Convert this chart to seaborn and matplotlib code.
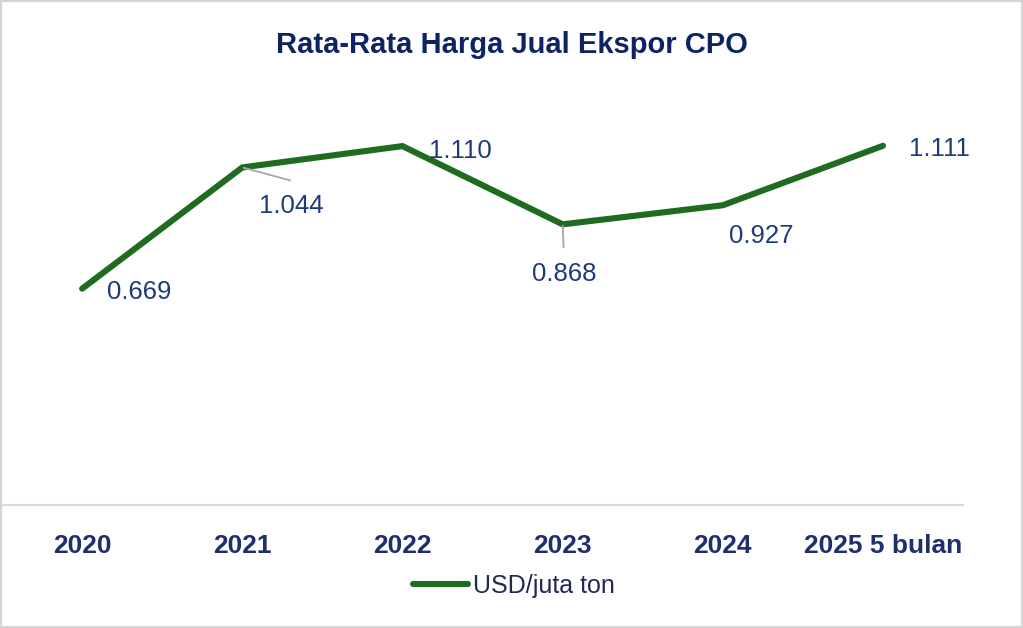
import pandas as pd
import matplotlib
matplotlib.use("Agg")
import matplotlib.pyplot as plt
import seaborn as sns

# data
tahun = ["2020", "2021", "2022", "2023", "2024", "2025 5 bulan"]
harga = [0.669, 1.044, 1.110, 0.868, 0.927, 1.111]
label = ["0.669", "1.044", "1.110", "0.868", "0.927", "1.111"]

df = pd.DataFrame({"tahun": tahun, "harga": harga})

sns.set_style("white")
plt.rcParams['font.family'] = ['Liberation Sans', 'DejaVu Sans']

hijau = "#1F6B1F"
navy = "#1F2F6E"
biru = "#1F3A7A"

fig = plt.figure(figsize=(10.23, 6.28), dpi=100)
ax = fig.add_axes([0.002, 0.1959, 0.9394, 0.6178])

sns.lineplot(data=df, x="tahun", y="harga", ax=ax, color=hijau, linewidth=4.4,
             sort=False, label="USD/juta ton", solid_capstyle="round", solid_joinstyle="miter")

ax.set_xlim(-0.5, 5.5)
ax.set_ylim(0, 1.2)
ax.set_xlabel("")
ax.set_ylabel("")
ax.set_yticks([])
for s in ["top", "left", "right"]:
    ax.spines[s].set_visible(False)
ax.spines["bottom"].set_color("#d9d9d9")
ax.spines["bottom"].set_linewidth(1.5)
ax.tick_params(axis="x", length=0, pad=21)
for t in ax.get_xticklabels():
    t.set_fontsize(19)
    t.set_fontweight("bold")
    t.set_color(navy)

# label offsets (pixels)
offs = [(57, -3), (49, -39), (58, -5), (2, -50), (38, -31), (56, -3)]
for i, (v, lab) in enumerate(zip(harga, label)):
    ax.annotate(lab, xy=(i, v), xytext=offs[i], textcoords="offset pixels",
                ha="center", va="center", fontsize=18.5, color=biru)

# leader lines
leaders = {1: (48, -13), 3: (1, -23)}
for i, o in leaders.items():
    ax.annotate("", xy=(i, harga[i]), xytext=o, textcoords="offset pixels",
                arrowprops=dict(arrowstyle="-", color="#a6a6a6", lw=1.3,
                                shrinkA=0, shrinkB=1))

fig.text(0.5, 1 - 45 / 628, "Rata-Rata Harga Jual Ekspor CPO", ha="center", va="center",
         fontsize=21, fontweight="bold", color="#0D2366")

ax.legend_.remove()
fig.legend(loc="center", bbox_to_anchor=(514 / 1023, 1 - 586 / 628), frameon=False,
           fontsize=18, handlelength=2.2, handletextpad=0.2, labelcolor="#1F2A55")

fig.add_artist(plt.Rectangle((0, 0), 1, 1, transform=fig.transFigure, fill=False,
                             ec="#d4d4d4", lw=3))

fig.savefig("out.png", dpi=100)
